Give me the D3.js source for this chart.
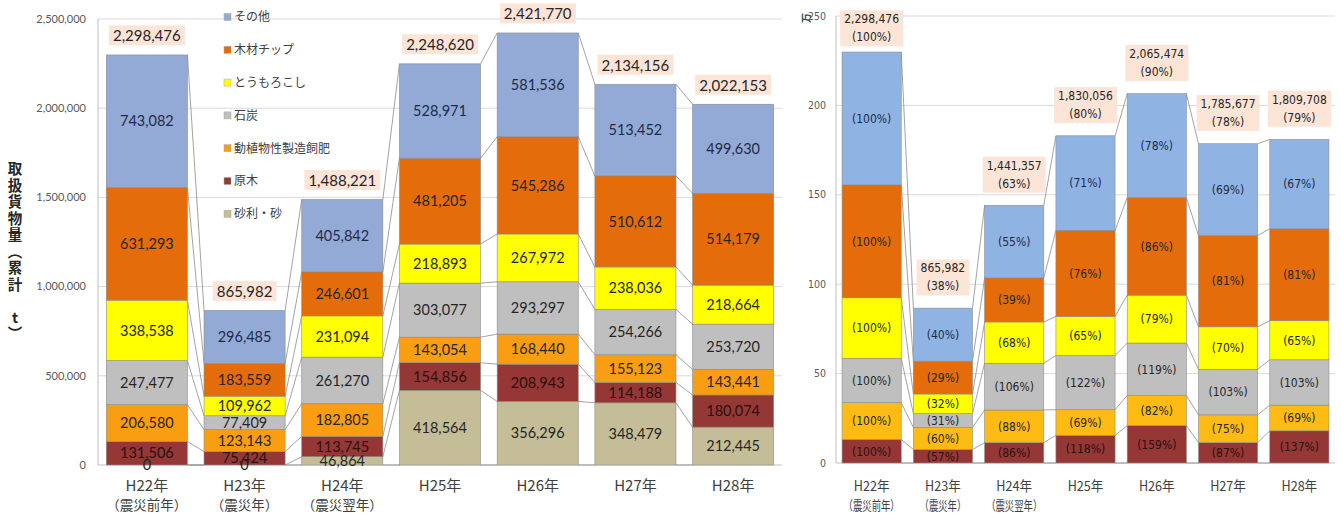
<!DOCTYPE html>
<html>
<head>
<meta charset="utf-8">
<script src="https://cdn.jsdelivr.net/npm/d3@7"></script>
<style>
  body { margin: 0; background: #fff; }
  svg { display: block; }
  text { font-family: "Lato", "Noto Sans CJK JP", sans-serif; }
  .jp { font-family: "Noto Sans CJK JP", sans-serif; }
  .nar { font-family: "Liberation Sans Narrow", "DejaVu Sans Condensed", "Noto Sans CJK JP", sans-serif; }
</style>
</head>
<body>
<div id="chart"></div>
<script>
// years and the sub captions under them
var years = ["H22年", "H23年", "H24年", "H25年", "H26年", "H27年", "H28年"];
var subs = ["（震災前年）", "（震災年）", "（震災翌年）", "", "", "", ""];

// cargo by kind (t), bottom of the stack first
var gravel = [0, 0, 46864, 418564, 356296, 348479, 212445];
var logs = [131506, 75424, 113745, 154856, 208943, 114188, 180074];
var feed = [206580, 123143, 182805, 143054, 168440, 155123, 143441];
var coal = [247477, 77409, 261270, 303077, 293297, 254266, 253720];
var corn = [338538, 109962, 231094, 218893, 267972, 238036, 218664];
var chips = [631293, 183559, 246601, 481205, 545286, 510612, 514179];
var other = [743082, 296485, 405842, 528971, 581536, 513452, 499630];

var kinds = ["砂利・砂", "原木", "動植物性製造飼肥", "石炭", "とうもろこし", "木材チップ", "その他"];
var keys = ["gravel", "logs", "feed", "coal", "corn", "chips", "other"];
var colorsL = ["#c4bd97", "#953735", "#f99d12", "#bfbfbf", "#ffff00", "#e46c0a", "#94aad6"];
var colorsR = ["#c4bd97", "#953735", "#fdbb14", "#bfbfbf", "#ffff00", "#e46c0a", "#8fb4e3"];
var yTicks = [0, 500000, 1000000, 1500000, 2000000, 2500000];

var W = 1341, H = 513;
var svg = d3.select("#chart").append("svg").attr("width", W).attr("height", H);

var rows = years.map(function(y, i) {
  return {year: y, gravel: gravel[i], logs: logs[i], feed: feed[i], coal: coal[i],
          corn: corn[i], chips: chips[i], other: other[i]};
});
var fmt = d3.format(",");

function labelColor(k) {
  if (k === "other") return "#1d2b4a";
  if (k === "logs") return "#2b1010";
  return "#262626";
}

// peach box behind a text group
function boxBehind(g, padX, padY) {
  var b = g.node().getBBox();
  g.insert("rect", ":first-child")
    .attr("x", b.x - padX).attr("y", b.y - padY)
    .attr("width", b.width + padX * 2).attr("height", b.height + padY * 2)
    .attr("fill", "#fce4d6");
}

function drawChart(opt) {
  var x = d3.scaleBand().domain(years).range([opt.x0, opt.x1])
    .paddingInner(0.17).paddingOuter(0.085);
  var y = d3.scaleLinear().domain([0, 2500000]).range([opt.yb, opt.yt]);
  var stack = d3.stack().keys(opt.keys)(rows);
  var g = svg.append("g");

  // grid
  g.selectAll(".grid").data(yTicks.slice(1)).enter().append("line")
    .attr("x1", opt.x0).attr("x2", opt.x1)
    .attr("y1", function(d) { return y(d); }).attr("y2", function(d) { return y(d); })
    .attr("stroke", "#d9d9d9").attr("stroke-width", 1);
  g.append("line").attr("x1", opt.x0).attr("x2", opt.x0)
    .attr("y1", y(2500000)).attr("y2", y(0)).attr("stroke", "#bfbfbf");
  g.append("line").attr("x1", opt.x0).attr("x2", opt.x1)
    .attr("y1", y(0)).attr("y2", y(0)).attr("stroke", "#bfbfbf");

  // tick labels
  g.selectAll(".tick").data(yTicks).enter().append("text")
    .attr("class", opt.tickClass)
    .attr("x", opt.x0 - opt.tickGap).attr("y", function(d) { return y(d); })
    .attr("dy", "0.35em").attr("text-anchor", "end")
    .attr("font-size", opt.tickSize).attr("fill", "#595959")
    .text(opt.tickFmt);

  // connector lines between neighbouring bars
  var bw = x.bandwidth();
  var tops = rows.map(function(r, i) {
    var out = [0];
    stack.forEach(function(s) { out.push(s[i][1]); });
    return out;
  });
  for (var i = 0; i < rows.length - 1; i++) {
    tops[i].forEach(function(v, k) {
      g.append("line")
        .attr("x1", x(years[i]) + bw).attr("y1", y(v))
        .attr("x2", x(years[i + 1])).attr("y2", y(tops[i + 1][k]))
        .attr("stroke", "#8c8c8c").attr("stroke-width", 0.8);
    });
  }

  // bars
  var layer = g.selectAll(".layer").data(stack).enter().append("g")
    .attr("fill", function(d) { return opt.colors[keys.indexOf(d.key)]; });
  layer.selectAll("rect").data(function(d) { return d; }).enter().append("rect")
    .attr("x", function(d) { return x(d.data.year); })
    .attr("y", function(d) { return y(d[1]); })
    .attr("width", bw)
    .attr("height", function(d) { return y(d[0]) - y(d[1]); })
    .attr("stroke", "#8c8c8c").attr("stroke-width", 0.6);

  // segment labels
  stack.forEach(function(s) {
    if (opt.skipZero && s.key === "gravel") return;
    g.selectAll(null).data(s).enter().append("text")
      .attr("class", opt.segClass)
      .attr("x", function(d) { return x(d.data.year) + bw / 2; })
      .attr("y", function(d) { return (y(d[0]) + y(d[1])) / 2; })
      .attr("dy", "0.36em").attr("text-anchor", "middle")
      .attr("font-size", opt.segSize)
      .attr("fill", labelColor(s.key))
      .text(function(d, i) { return opt.segText(s.key, d, i); });
  });

  // totals
  rows.forEach(function(r, i) {
    var tot = d3.sum(opt.keys, function(k) { return r[k]; });
    var cx = x(years[i]) + bw / 2;
    opt.total(g, cx, y(tot), tot);
  });

  // x labels
  years.forEach(function(yr, i) {
    var cx = x(yr) + bw / 2;
    g.append("text").attr("class", "jp")
      .attr("transform", "translate(" + cx + ",491) scale(" + opt.xScale + ",1)")
      .attr("text-anchor", "middle").attr("font-size", opt.xSize).attr("fill", "#404040")
      .text(yr);
    if (subs[i]) {
      g.append("text").attr("class", "jp")
        .attr("transform", "translate(" + cx + ",510) scale(" + opt.subScale + ",1)")
        .attr("text-anchor", "middle").attr("font-size", opt.subSize).attr("fill", "#404040")
        .text(subs[i]);
    }
  });
}

// left chart: tonnes
drawChart({
  x0: 98, x1: 782, yb: 465, yt: 19,
  keys: keys, colors: colorsL, skipZero: false,
  tickClass: "", tickGap: 12, tickSize: 11,
  tickFmt: function(d) { return fmt(d); },
  segClass: "", segSize: 14.5,
  segText: function(k, d) { return fmt(d[1] - d[0]); },
  total: function(g, cx, ty, tot) {
    var t = g.append("g");
    t.append("text").attr("x", cx).attr("y", ty - 19).attr("dy", "0.36em")
      .attr("text-anchor", "middle").attr("font-size", 15).attr("fill", "#262626")
      .text(fmt(tot));
    boxBehind(t, 4, 1);
  },
  xScale: 1, xSize: 15, subScale: 1, subSize: 13.5
});

// right chart: without gravel, 万t, ratio to H22
var baseRow = rows[0];
var keysR = keys.slice(1);
var baseTot = d3.sum(keysR, function(k) { return baseRow[k]; });
drawChart({
  x0: 836, x1: 1335, yb: 463, yt: 16,
  keys: keysR, colors: colorsR, skipZero: true,
  tickClass: "nar", tickGap: 10, tickSize: 10.5,
  tickFmt: function(d) { return d / 10000; },
  segClass: "nar", segSize: 12,
  segText: function(k, d) {
    return "(" + Math.round((d[1] - d[0]) / baseRow[k] * 100) + "%)";
  },
  total: function(g, cx, ty, tot) {
    var t = g.append("g");
    var y1 = Math.max(ty - 40, 19);
    t.append("text").attr("class", "nar").attr("x", cx).attr("y", y1).attr("dy", "0.36em")
      .attr("text-anchor", "middle").attr("font-size", 12).attr("fill", "#262626")
      .text(fmt(tot));
    t.append("text").attr("class", "nar").attr("x", cx).attr("y", y1 + 18).attr("dy", "0.36em")
      .attr("text-anchor", "middle").attr("font-size", 12).attr("fill", "#262626")
      .text("(" + Math.round(tot / baseTot * 100) + "%)");
    boxBehind(t, 4, 2);
  },
  xScale: 0.9, xSize: 14, subScale: 0.72, subSize: 13
});

// left y title, set vertically one glyph at a time
var title = ["取", "扱", "貨", "物", "量", "︵", "累", "計", "　", "t", "︶"];
svg.append("g").selectAll("text").data(title).enter().append("text")
  .attr("class", "jp")
  .attr("x", 15).attr("y", function(d, i) { return 169 + i * 16.5; })
  .attr("dy", "0.36em").attr("text-anchor", "middle")
  .attr("font-size", 14.5).attr("font-weight", "bold").attr("fill", "#262626")
  .text(function(d) { return d; });

// right unit
svg.append("text").attr("class", "jp")
  .attr("transform", "translate(806,18) rotate(-90)")
  .attr("text-anchor", "middle").attr("dy", "0.36em")
  .attr("font-size", 10).attr("font-weight", "bold").attr("fill", "#404040")
  .text("万");

// legend (top of stack first)
var legendColors = colorsL.slice().reverse();
var legend = svg.append("g").selectAll("g").data(kinds.slice().reverse()).enter().append("g")
  .attr("transform", function(d, i) { return "translate(224," + (17 + i * 32.8) + ")"; });
legend.append("rect").attr("x", 0).attr("y", -3.5).attr("width", 7).attr("height", 7)
  .attr("fill", function(d, i) { return legendColors[i]; })
  .attr("stroke", "#a6a6a6").attr("stroke-width", 0.5);
legend.append("text").attr("class", "jp").attr("x", 10).attr("dy", "0.36em")
  .attr("font-size", 12).attr("fill", "#404040")
  .text(function(d) { return d; });
</script>
</body>
</html>
